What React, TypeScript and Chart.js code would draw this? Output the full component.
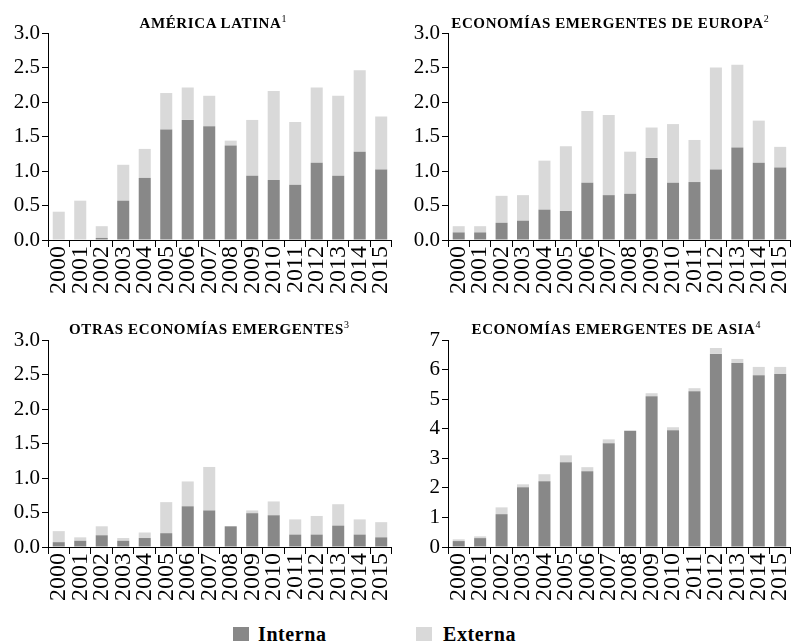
import React, { useEffect, useRef } from 'react';
import { Chart, registerables } from 'chart.js';
Chart.register(...registerables);

const years = ['2000', '2001', '2002', '2003', '2004', '2005', '2006', '2007', '2008', '2009', '2010', '2011', '2012', '2013', '2014', '2015'];

const latamInterna = [0, 0, 0.03, 0.57, 0.9, 1.6, 1.74, 1.65, 1.37, 0.93, 0.87, 0.8, 1.12, 0.93, 1.28, 1.02];
const latamExterna = [0.41, 0.57, 0.17, 0.52, 0.42, 0.53, 0.47, 0.44, 0.07, 0.81, 1.29, 0.91, 1.09, 1.16, 1.18, 0.77];

const europaInterna = [0.11, 0.11, 0.25, 0.28, 0.44, 0.42, 0.83, 0.65, 0.67, 1.19, 0.83, 0.84, 1.02, 1.34, 1.12, 1.05];
const europaExterna = [0.09, 0.09, 0.39, 0.37, 0.71, 0.94, 1.04, 1.16, 0.61, 0.44, 0.85, 0.61, 1.48, 1.2, 0.61, 0.3];

const otrasInterna = [0.07, 0.09, 0.17, 0.09, 0.13, 0.2, 0.59, 0.53, 0.3, 0.49, 0.46, 0.18, 0.18, 0.31, 0.18, 0.14];
const otrasExterna = [0.16, 0.05, 0.13, 0.04, 0.08, 0.45, 0.36, 0.63, 0, 0.04, 0.2, 0.22, 0.27, 0.31, 0.22, 0.22];

const asiaInterna = [0.2, 0.3, 1.11, 2.02, 2.22, 2.87, 2.56, 3.51, 3.92, 5.1, 3.95, 5.27, 6.53, 6.22, 5.81, 5.85];
const asiaExterna = [0.06, 0.06, 0.23, 0.1, 0.24, 0.23, 0.14, 0.13, 0.03, 0.1, 0.1, 0.1, 0.2, 0.14, 0.28, 0.24];

const seriesNames = ['Interna', 'Externa'];
const DARK = '#888888';
const LIGHT = '#d9d9d9';
const TICK_FONT = "'Liberation Serif', serif";
const TITLE_FONT = '"Liberation Serif", serif';

type PanelProps = {
  left: number;
  top: number;
  width: number;
  height: number;
  padTop: number;
  xHeight: number;
  interna: number[];
  externa: number[];
  max: number;
  step: number;
  decimals: number;
};

function Panel(p: PanelProps) {
  const ref = useRef<HTMLCanvasElement | null>(null);
  useEffect(() => {
    if (!ref.current) return;
    const chart = new Chart(ref.current, {
      type: 'bar',
      data: {
        labels: years,
        datasets: [
          { label: seriesNames[0], data: p.interna, backgroundColor: DARK, barPercentage: 0.56, categoryPercentage: 1 },
          { label: seriesNames[1], data: p.externa, backgroundColor: LIGHT, barPercentage: 0.56, categoryPercentage: 1 },
        ],
      },
      options: {
        animation: false,
        responsive: true,
        maintainAspectRatio: false,
        layout: { padding: { top: p.padTop, left: 0, right: 0, bottom: 0 } },
        plugins: { legend: { display: false }, tooltip: { enabled: false } },
        scales: {
          x: {
            stacked: true,
            grid: { drawOnChartArea: false, drawTicks: true, tickLength: 7, color: '#000', offset: true },
            border: { display: true, color: '#000', width: 1 },
            ticks: { color: '#000', font: { family: TICK_FONT, size: 24 }, maxRotation: 90, minRotation: 90, autoSkip: false, padding: -1 },
            afterFit: (s: any) => { s.height = p.xHeight; },
          },
          y: {
            stacked: true,
            min: 0,
            max: p.max,
            grid: { drawOnChartArea: false, drawTicks: true, tickLength: 6, color: '#000' },
            border: { display: true, color: '#000', width: 1 },
            ticks: {
              color: '#000',
              font: { family: TICK_FONT, size: 21 },
              stepSize: p.step,
              padding: 2,
              callback: (v: any) => Number(v).toFixed(p.decimals),
            },
            afterFit: (s: any) => { s.width = 48; },
          },
        },
      },
    });
    return () => chart.destroy();
  }, []);
  return (
    <div style={{ position: 'absolute', left: p.left, top: p.top, width: p.width, height: p.height }}>
      <canvas ref={ref} />
    </div>
  );
}

function Title({ text, sup, cx, top }: { text: string; sup: string; cx: number; top: number }) {
  return (
    <div
      style={{
        position: 'absolute',
        left: cx - 250,
        width: 500,
        top,
        textAlign: 'center',
        fontFamily: TITLE_FONT,
        fontWeight: 'bold',
        fontSize: 15,
        letterSpacing: 0.6,
        lineHeight: '16px',
        color: '#000',
        whiteSpace: 'nowrap',
      }}
    >
      {text}
      <sup style={{ fontSize: 10, fontWeight: 'normal', verticalAlign: 'top', position: 'relative', top: -4, letterSpacing: 0 }}>{sup}</sup>
    </div>
  );
}

export default function App() {
  return (
    <div style={{ position: 'fixed', left: 0, top: 0, width: 799, height: 641, background: '#fff', overflow: 'hidden' }}>
      <Panel left={0} top={0} width={409} height={300} padTop={33} xHeight={60} interna={latamInterna} externa={latamExterna} max={3} step={0.5} decimals={1} />
      <Panel left={400} top={0} width={408} height={300} padTop={33} xHeight={60} interna={europaInterna} externa={europaExterna} max={3} step={0.5} decimals={1} />
      <Panel left={0} top={300} width={409} height={305} padTop={40} xHeight={58} interna={otrasInterna} externa={otrasExterna} max={3} step={0.5} decimals={1} />
      <Panel left={400} top={300} width={408} height={305} padTop={40} xHeight={58} interna={asiaInterna} externa={asiaExterna} max={7} step={1} decimals={0} />
      <Title text="AMÉRICA LATINA" sup="1" cx={213} top={15} />
      <Title text="ECONOMÍAS EMERGENTES DE EUROPA" sup="2" cx={610} top={15} />
      <Title text="OTRAS ECONOMÍAS EMERGENTES" sup="3" cx={209} top={321} />
      <Title text="ECONOMÍAS EMERGENTES DE ASIA" sup="4" cx={616} top={321} />
      <div style={{ position: 'absolute', top: 626, left: 233, display: 'flex', alignItems: 'center', fontFamily: TITLE_FONT, fontWeight: 'bold', fontSize: 20, letterSpacing: 0.6, lineHeight: '16px' }}>
        <span style={{ display: 'inline-block', width: 16, height: 14, background: DARK, marginRight: 9 }} />
        <span>{seriesNames[0]}</span>
      </div>
      <div style={{ position: 'absolute', top: 626, left: 416, display: 'flex', alignItems: 'center', fontFamily: TITLE_FONT, fontWeight: 'bold', fontSize: 20, letterSpacing: 0.6, lineHeight: '16px' }}>
        <span style={{ display: 'inline-block', width: 16, height: 14, background: LIGHT, marginRight: 11 }} />
        <span>{seriesNames[1]}</span>
      </div>
    </div>
  );
}
